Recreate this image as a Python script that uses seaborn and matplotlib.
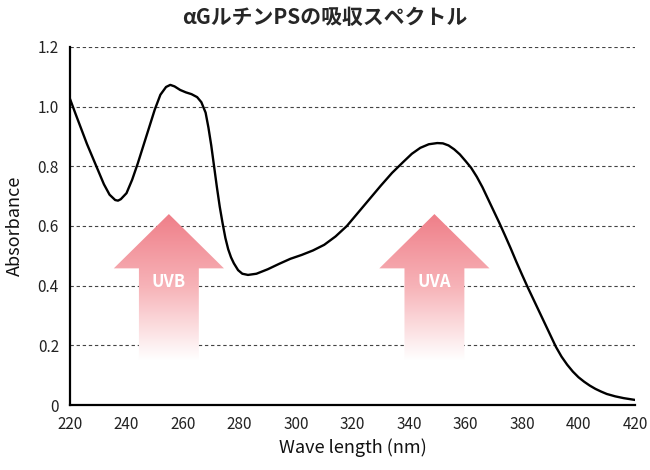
import numpy as np
import pandas as pd
import matplotlib
matplotlib.use("Agg")
import matplotlib.pyplot as plt
import seaborn as sns
from matplotlib.patches import Polygon
from matplotlib.colors import LinearSegmentedColormap

# ── Spectrum ────────────────────────────────────────────────────────
wavelength = [220, 222, 224, 226, 228, 230, 232, 234, 236, 237, 238, 240, 242,
              244, 246, 248, 250, 252, 254, 255.5, 257, 259, 261, 263, 265,
              266.5, 268, 269, 270, 271, 272, 273, 274, 275, 276, 277, 278,
              279.5, 281, 283, 286, 290, 294, 298, 302, 306, 310, 314, 318,
              322, 326, 330, 334, 338, 341, 344, 347, 350, 352, 354, 356, 358,
              360, 362, 364, 366, 368, 370, 372, 374, 376, 378, 380, 382, 384,
              386, 388, 390, 392, 394, 396, 398, 400, 402, 404, 406, 408, 410,
              413, 416, 420]
absorbance = [1.026, 0.975, 0.925, 0.875, 0.83, 0.785, 0.74, 0.705, 0.687,
              0.685, 0.69, 0.71, 0.755, 0.81, 0.87, 0.93, 0.99, 1.04, 1.066,
              1.073, 1.068, 1.056, 1.048, 1.042, 1.032, 1.015, 0.98, 0.93,
              0.87, 0.80, 0.73, 0.665, 0.61, 0.56, 0.522, 0.495, 0.475, 0.452,
              0.44, 0.436, 0.44, 0.455, 0.473, 0.49, 0.503, 0.518, 0.537,
              0.565, 0.60, 0.645, 0.69, 0.735, 0.778, 0.815, 0.842, 0.862,
              0.874, 0.878, 0.877, 0.87, 0.857, 0.84, 0.818, 0.795, 0.765,
              0.73, 0.69, 0.65, 0.61, 0.568, 0.525, 0.48, 0.437, 0.395, 0.355,
              0.315, 0.275, 0.235, 0.195, 0.162, 0.135, 0.112, 0.093, 0.078,
              0.065, 0.054, 0.045, 0.037, 0.029, 0.023, 0.017]

band_labels = ["UVB", "UVA"]
band_centers = [255, 349]

x_ticks = [220, 240, 260, 280, 300, 320, 340, 360, 380, 400, 420]
y_ticks = [0, 0.2, 0.4, 0.6, 0.8, 1.0, 1.2]
y_tick_labels = ["0", "0.2", "0.4", "0.6", "0.8", "1.0", "1.2"]

df = pd.DataFrame({"wavelength": wavelength, "absorbance": absorbance})

sns.set_style("white")
plt.rcParams["font.family"] = ["Noto Sans CJK JP", "DejaVu Sans"]

fig = plt.figure(figsize=(6.5, 4.7), dpi=100)
ax = fig.add_axes([70 / 650, 65 / 470, 565 / 650, 358 / 470])

# ── Gradient arrows ─────────────────────────────────────────────────
cmap = LinearSegmentedColormap.from_list("pk", ["#EF7E88", "#F7B3B8", "#FFFFFF"])
grad = np.linspace(0, 1, 256)[:, None]
tip_y, head_y, bot_y = 0.64, 0.458, 0.15
for label, cx in zip(band_labels, band_centers):
    pts = [(cx, tip_y), (cx + 19.5, head_y), (cx + 10.6, head_y),
           (cx + 10.6, bot_y), (cx - 10.6, bot_y), (cx - 10.6, head_y),
           (cx - 19.5, head_y)]
    poly = Polygon(pts, closed=True, facecolor="none", edgecolor="none",
                   transform=ax.transData)
    ax.add_patch(poly)
    im = ax.imshow(grad, extent=[cx - 20, cx + 20, bot_y, tip_y], origin="upper",
                   cmap=cmap, aspect="auto", zorder=1, interpolation="bilinear")
    im.set_clip_path(poly)
    ax.text(cx, 0.413, label, color="white", fontsize=12, fontweight="bold",
            ha="center", va="center", zorder=2)

# ── Spectrum ────────────────────────────────────────────────────────
sns.lineplot(data=df, x="wavelength", y="absorbance", ax=ax, color="black",
             linewidth=1.7, zorder=3)

ax.set_xlim(220, 420)
ax.set_ylim(0, 1.2)
ax.set_xticks(x_ticks)
ax.set_yticks(y_ticks)
ax.set_yticklabels(y_tick_labels)
ax.tick_params(axis="x", length=4, width=0.8, color="#999999", labelsize=11,
               pad=4, labelcolor="#222222")
ax.tick_params(axis="y", length=0, labelsize=11, pad=8, labelcolor="#222222")

for y in y_ticks[1:]:
    ax.axhline(y, color="#444444", linewidth=0.8, linestyle=(0, (3, 2.5)), zorder=0)

ax.spines[["top", "right"]].set_visible(False)
for s in ["left", "bottom"]:
    ax.spines[s].set_linewidth(1.6)
    ax.spines[s].set_color("black")

ax.set_xlabel("Wave length (nm)", fontsize=13, labelpad=4, color="#111111")
ax.set_ylabel("Absorbance", fontsize=13, labelpad=10, color="#111111")
fig.text(0.5, 0.962, "αGルチンPSの吸収スペクトル", ha="center", va="center",
         fontsize=15, fontweight="bold")

fig.savefig("out.png", dpi=100)
